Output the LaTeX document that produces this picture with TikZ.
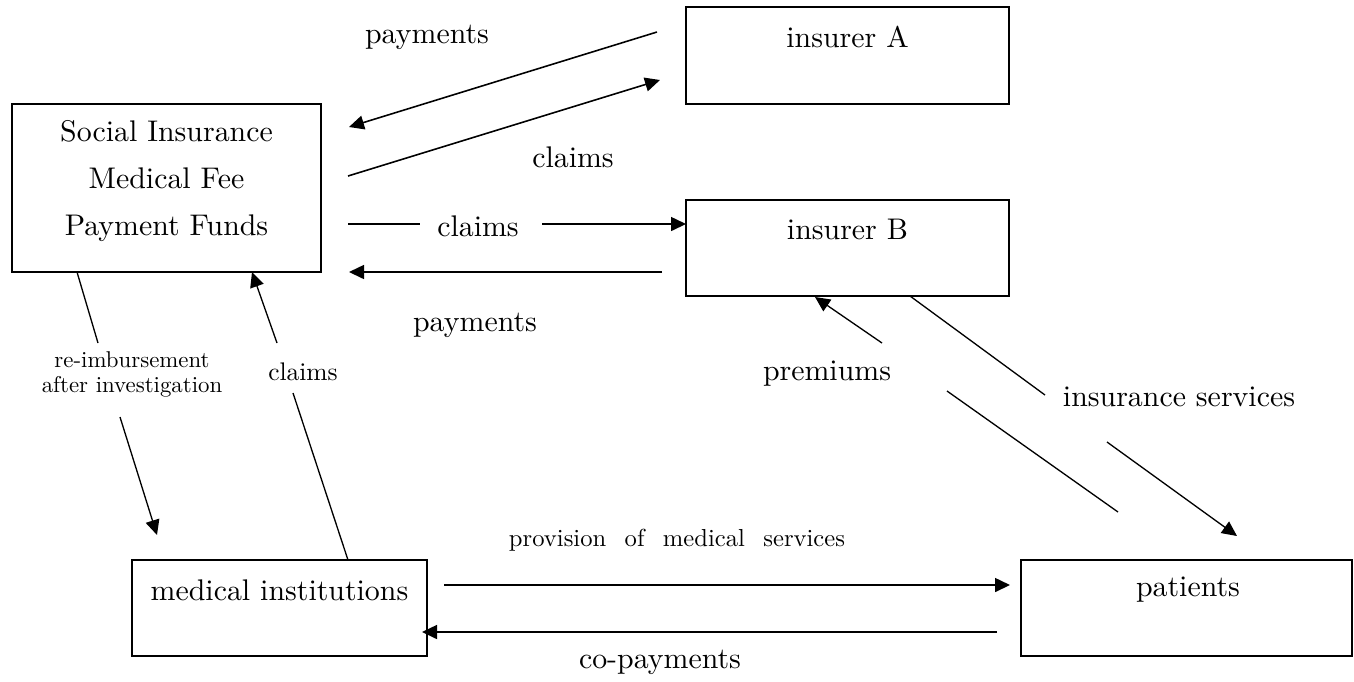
\documentclass[tikz,border=0pt]{standalone}
\usepackage{fontspec}
\setmainfont{lmroman10-regular.otf}
\usetikzlibrary{arrows.meta}
\begin{document}
\begin{tikzpicture}[x=0.02cm,y=-0.02cm,
  box/.style={draw, line width=1.1pt, inner sep=0pt},
  big/.style={font=\fontsize{17}{20}\selectfont, inner sep=0pt},
  mid/.style={font=\fontsize{14.5}{17}\selectfont, inner sep=0pt},
  small/.style={font=\fontsize{13}{14.2}\selectfont, inner sep=0pt, align=center},
  flow/.style={line width=0.9pt},
  thin/.style={line width=0.75pt},
  tipped/.style={-{Triangle[length=0.3cm,width=0.28cm]}}]
\useasboundingbox (0,0) rectangle (1354,681);

% boxes
\node[box, minimum width=6.18cm, minimum height=3.36cm] (si) at (166.5,188) {};
\node[box, minimum width=6.46cm, minimum height=1.94cm] (insA) at (847.5,55.5) {};
\node[box, minimum width=6.46cm, minimum height=1.92cm] (insB) at (847.5,248) {};
\node[box, minimum width=5.90cm, minimum height=1.92cm] (med) at (279.5,608) {};
\node[box, minimum width=6.62cm, minimum height=1.92cm] (pat) at (1186.5,608) {};

% box texts
\node[big, align=center, font=\fontsize{17}{26.7}\selectfont] (siT) at (166.5,181) {Social Insurance\\Medical Fee\\Payment Funds};
\node[big] (insAT) at (847.5,37) {insurer A};
\node[big] (insBT) at (847.5,229) {insurer B};
\node[big] (medT) at (279.5,590) {medical institutions};
\node[big] (patT) at (1188,590) {patients};

% labels
\node[big] (lPayA) at (427,37) {payments};
\node[big] (lClA) at (573,157) {claims};
\node[big] (lClB) at (478,226) {claims};
\node[big] (lPayB) at (475,325) {payments};
\node[small] (lReimb) at (132,374) {re-imbursement\\after investigation};
\node[mid] (lClMed) at (303,372) {claims};
\node[big] (lPrem) at (827,374) {premiums};
\node[big] (lIns) at (1179,397) {insurance services};
\node[font=\fontsize{14}{17}\selectfont, inner sep=0pt] (lProv) at (677,540) {provision\hspace{10.5pt}of\hspace{10.5pt}medical\hspace{10.5pt}services};
\node[big] (lCop) at (660,662) {co-payments};

% coordinates
\coordinate (a1) at (657,32);  \coordinate (a2) at (349,127);
\coordinate (b1) at (348,176); \coordinate (b2) at (660,80);
\coordinate (c1) at (348,224); \coordinate (c2) at (420,224);
\coordinate (c3) at (542,224); \coordinate (c4) at (686,224);
\coordinate (d1) at (662,272); \coordinate (d2) at (349,272);
\coordinate (e1) at (77,272);  \coordinate (e2) at (98,343);
\coordinate (e3) at (120,417); \coordinate (e4) at (157,535);
\coordinate (f1) at (348,560); \coordinate (f2) at (293,393);
\coordinate (f3) at (277,343); \coordinate (f4) at (252,272);
\coordinate (g1) at (1118,512); \coordinate (g2) at (947,391);
\coordinate (g3) at (882,343);  \coordinate (g4) at (815,297);
\coordinate (h1) at (910,296);  \coordinate (h2) at (1045,395);
\coordinate (h3) at (1107,442); \coordinate (h4) at (1237,536);
\coordinate (p1) at (444,585);  \coordinate (p2) at (1010,585);
\coordinate (q1) at (997,632);  \coordinate (q2) at (422,632);

% connectors
\draw[flow, tipped] (a1) -- (a2);
\draw[flow, tipped] (b1) -- (b2);
\draw[flow] (c1) -- (c2);
\draw[flow, tipped] (c3) -- (c4);
\draw[flow, tipped] (d1) -- (d2);
\draw[thin] (e1) -- (e2);
\draw[thin, tipped] (e3) -- (e4);
\draw[thin] (f1) -- (f2);
\draw[thin, tipped] (f3) -- (f4);
\draw[thin] (g1) -- (g2);
\draw[thin, tipped] (g3) -- (g4);
\draw[thin] (h1) -- (h2);
\draw[thin, tipped] (h3) -- (h4);
\draw[flow, tipped] (p1) -- (p2);
\draw[flow, tipped] (q1) -- (q2);
\end{tikzpicture}
\end{document}
